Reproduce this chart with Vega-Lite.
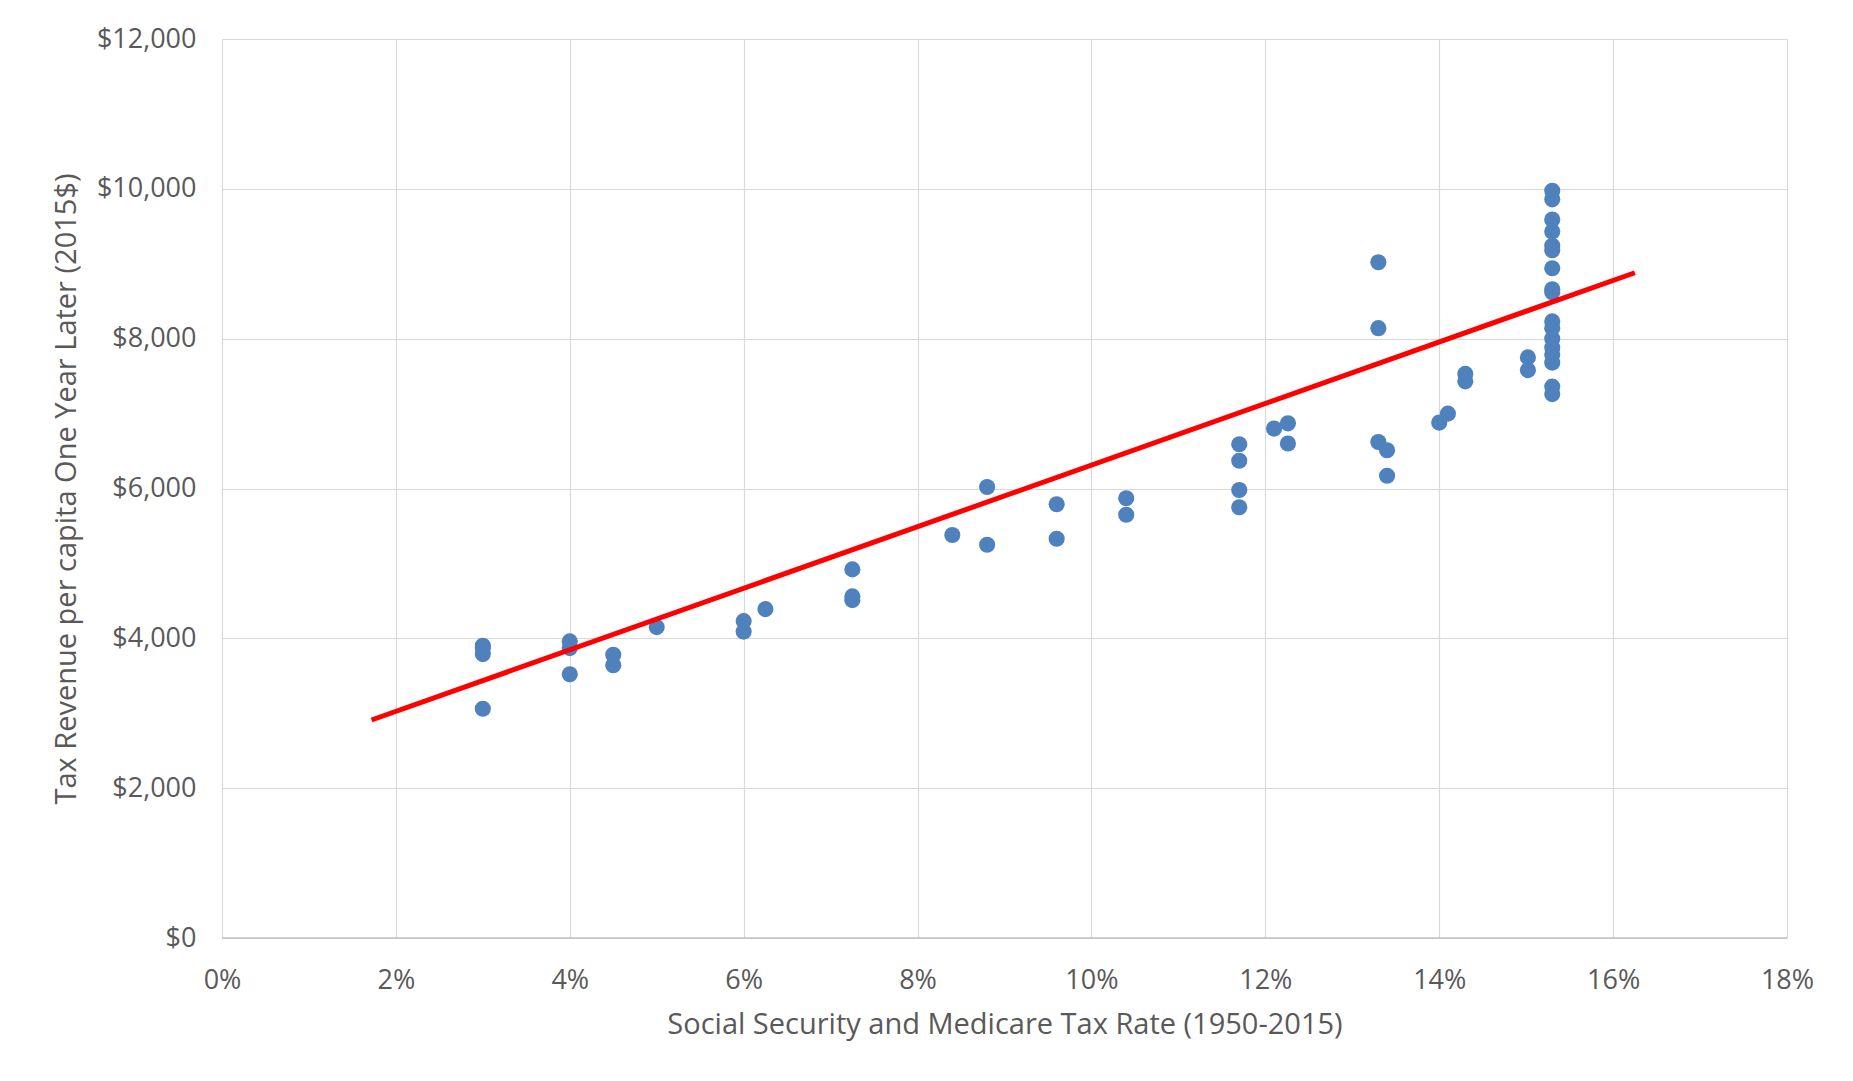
{
  "$schema": "https://vega.github.io/schema/vega-lite/v6.json",
  "width": 1565,
  "height": 899,
  "autosize": {"type": "none"},
  "padding": {"left": 222, "top": 39, "right": 66, "bottom": 144},
  "background": "white",
  "config": {
    "font": "Open Sans",
    "view": {"stroke": null},
    "axis": {
      "labelFont": "Open Sans",
      "titleFont": "Open Sans",
      "labelColor": "#595959",
      "titleColor": "#595959",
      "labelFontSize": 27,
      "titleFontSize": 29,
      "titleFontWeight": "normal",
      "gridColor": "#d9d9d9",
      "gridWidth": 1.2,
      "tickSize": 0,
      "domain": false,
      "labelFlush": false,
      "labelOverlap": false
    }
  },
  "datasets": {
    "points": [
      {"rate": 0.03, "revenue": 3900}, {"rate": 0.03, "revenue": 3870}, {"rate": 0.03, "revenue": 3790}, {"rate": 0.03, "revenue": 3060},
      {"rate": 0.04, "revenue": 3960}, {"rate": 0.04, "revenue": 3870}, {"rate": 0.04, "revenue": 3520},
      {"rate": 0.045, "revenue": 3780}, {"rate": 0.045, "revenue": 3640},
      {"rate": 0.05, "revenue": 4150},
      {"rate": 0.06, "revenue": 4230}, {"rate": 0.06, "revenue": 4090},
      {"rate": 0.0625, "revenue": 4390},
      {"rate": 0.0725, "revenue": 4920}, {"rate": 0.0725, "revenue": 4560}, {"rate": 0.0725, "revenue": 4510},
      {"rate": 0.084, "revenue": 5380},
      {"rate": 0.088, "revenue": 6020}, {"rate": 0.088, "revenue": 5250},
      {"rate": 0.096, "revenue": 5790}, {"rate": 0.096, "revenue": 5330},
      {"rate": 0.104, "revenue": 5870}, {"rate": 0.104, "revenue": 5650},
      {"rate": 0.117, "revenue": 6590}, {"rate": 0.117, "revenue": 6370}, {"rate": 0.117, "revenue": 5980}, {"rate": 0.117, "revenue": 5750},
      {"rate": 0.121, "revenue": 6800},
      {"rate": 0.1226, "revenue": 6870}, {"rate": 0.1226, "revenue": 6600},
      {"rate": 0.133, "revenue": 9020}, {"rate": 0.133, "revenue": 8140}, {"rate": 0.133, "revenue": 6620},
      {"rate": 0.134, "revenue": 6510}, {"rate": 0.134, "revenue": 6170},
      {"rate": 0.14, "revenue": 6880},
      {"rate": 0.141, "revenue": 7000},
      {"rate": 0.143, "revenue": 7530}, {"rate": 0.143, "revenue": 7430},
      {"rate": 0.1502, "revenue": 7750}, {"rate": 0.1502, "revenue": 7580},
      {"rate": 0.153, "revenue": 9975}, {"rate": 0.153, "revenue": 9860}, {"rate": 0.153, "revenue": 9590}, {"rate": 0.153, "revenue": 9430},
      {"rate": 0.153, "revenue": 9240}, {"rate": 0.153, "revenue": 9180}, {"rate": 0.153, "revenue": 8940}, {"rate": 0.153, "revenue": 8660},
      {"rate": 0.153, "revenue": 8620}, {"rate": 0.153, "revenue": 8230}, {"rate": 0.153, "revenue": 8140}, {"rate": 0.153, "revenue": 8000},
      {"rate": 0.153, "revenue": 7880}, {"rate": 0.153, "revenue": 7790}, {"rate": 0.153, "revenue": 7680}, {"rate": 0.153, "revenue": 7360},
      {"rate": 0.153, "revenue": 7260}
    ],
    "trend": [
      {"rate": 0.0172, "revenue": 2910},
      {"rate": 0.1625, "revenue": 8880}
    ]
  },
  "layer": [
    {
      "data": {"name": "points"},
      "mark": {"type": "circle", "color": "#4f81bd", "opacity": 1, "size": 260},
      "encoding": {
        "x": {
          "field": "rate", "type": "quantitative",
          "scale": {"domain": [0, 0.18], "nice": false},
          "axis": {
            "values": [0, 0.02, 0.04, 0.06, 0.08, 0.1, 0.12, 0.14, 0.16, 0.18],
            "format": ".0%",
            "labelPadding": 29,
            "title": "Social Security and Medicare Tax Rate (1950-2015)",
            "titlePadding": 17
          }
        },
        "y": {
          "field": "revenue", "type": "quantitative",
          "scale": {"domain": [0, 12000], "nice": false},
          "axis": {
            "values": [0, 2000, 4000, 6000, 8000, 10000, 12000],
            "format": "$,.0f",
            "labelPadding": 26,
            "title": "Tax Revenue per capita One Year Later (2015$)",
            "titlePadding": 15
          }
        }
      }
    },
    {
      "data": {"name": "trend"},
      "mark": {"type": "line", "color": "#ff0000", "strokeWidth": 5},
      "encoding": {
        "x": {"field": "rate", "type": "quantitative"},
        "y": {"field": "revenue", "type": "quantitative"}
      }
    },
    {
      "data": {"values": [{"v": 0}]},
      "mark": {"type": "rule", "color": "#bfbfbf", "strokeWidth": 1.5},
      "encoding": {"y": {"field": "v", "type": "quantitative"}}
    }
  ]
}
